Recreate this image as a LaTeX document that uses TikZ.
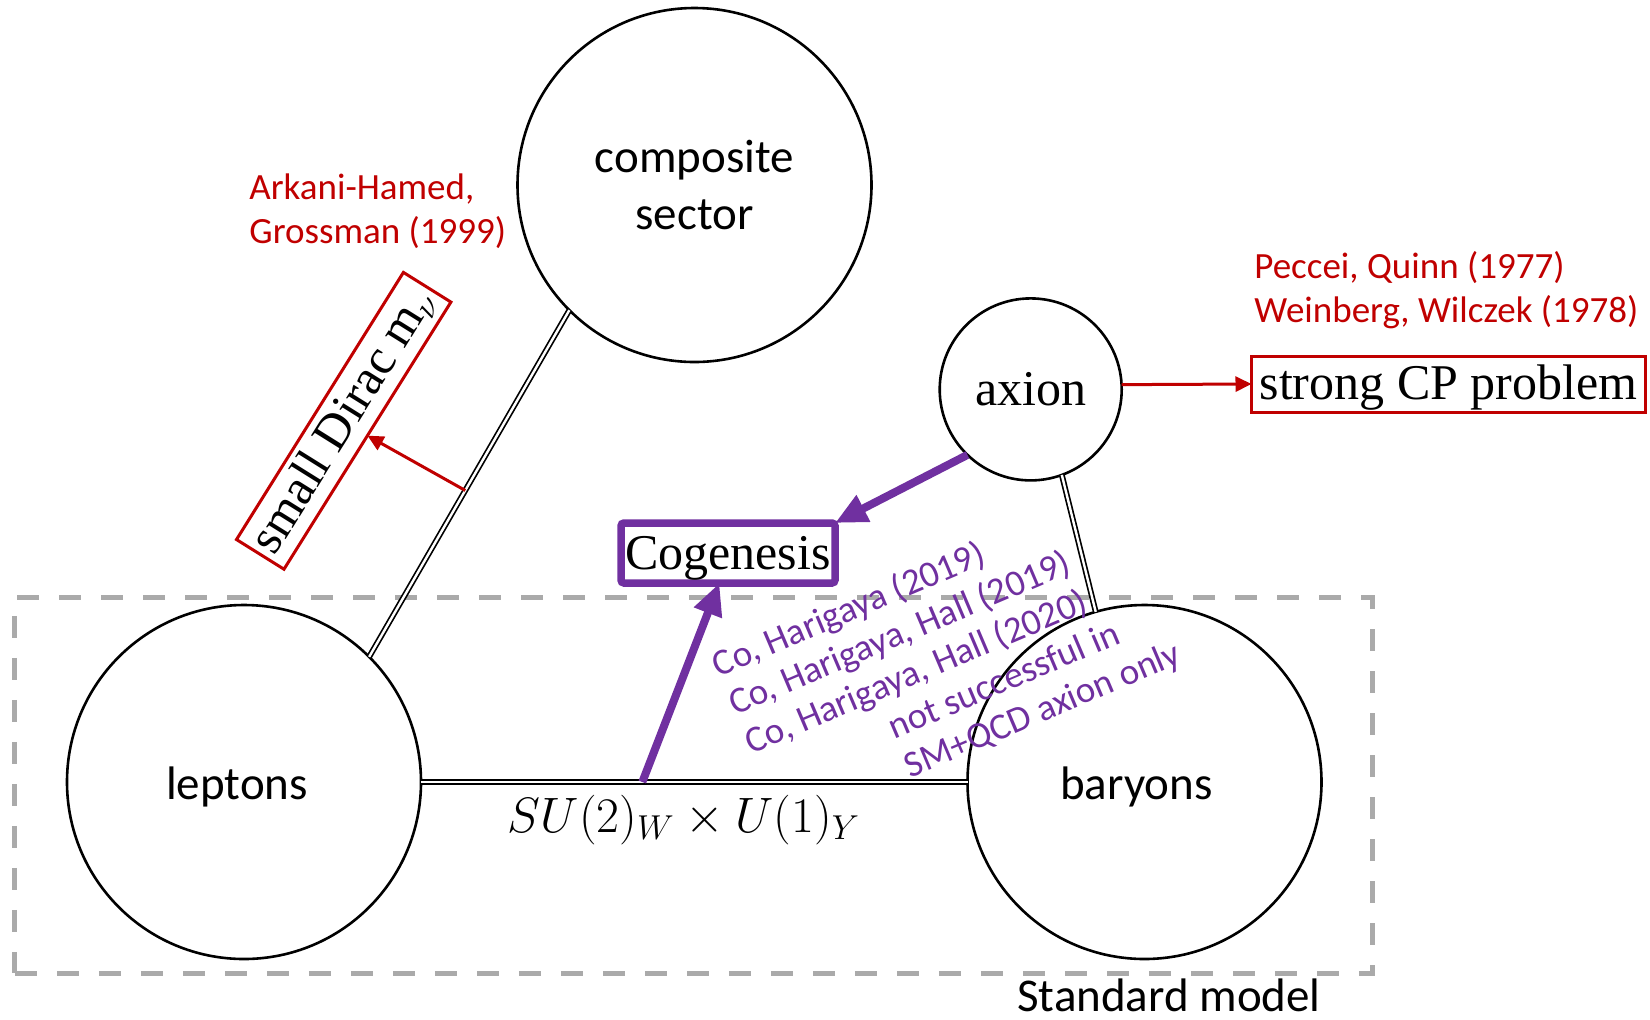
\documentclass[tikz,border=0pt]{standalone}
\usepackage{fontspec}
\setmainfont{Carlito}
\newfontfamily\serifA{Liberation Serif}
\usetikzlibrary{arrows.meta,calc}
\definecolor{myred}{RGB}{192,0,0}
\definecolor{mypurple}{RGB}{112,48,160}
\definecolor{dashgray}{RGB}{170,170,170}
\newcommand{\lowerby}[2]{\raisebox{-#1}[\height][\depth]{#2}}
\begin{document}
\begin{tikzpicture}[x=0.5pt,y=-0.5pt,
  bigcirc/.style={circle,draw=black,line width=1.3pt,minimum size=177pt,inner sep=0pt,outer sep=0pt,font=\fontsize{23.5}{28.3}\selectfont,align=center},
  smallcirc/.style={circle,draw=black,line width=1.3pt,minimum size=91pt,inner sep=0pt,outer sep=0pt,font=\serifA\fontsize{25}{30}\selectfont},
  dbl/.style={draw=black,line width=0.85pt,double=white,double distance=1.2pt},
  redarr/.style={draw=myred,line width=1.5pt,-{Triangle[length=8pt,width=7.5pt]}},
  purparr/.style={draw=mypurple,line width=4pt,-{Triangle[length=16pt,width=14pt]}},
  redbox/.style={draw=myred,line width=1.5pt,inner sep=0pt,outer sep=0pt,font=\serifA\fontsize{25}{30}\selectfont},
  reftext/.style={text=myred,font=\fontsize{18.5}{22}\selectfont,align=left,inner sep=0pt},
  purptext/.style={text=mypurple,font=\fontsize{18.5}{21}\selectfont,align=left,inner sep=0pt},
  smregion/.style={draw=dashgray,line width=2.5pt,dash pattern=on 11pt off 10pt,inner sep=0pt,outer sep=0pt},
  cogbox/.style={draw=mypurple,line width=3.75pt,rounded corners=1.5pt,inner sep=0pt,outer sep=0pt,font=\serifA\fontsize{25}{30}\selectfont}
]
\useasboundingbox (0,0) rectangle (1650,1019);

% Standard model region
\node[smregion,minimum width=678.6pt,minimum height=187.8pt] (smbox) at (693.4,785.6) {};
\node[font=\fontsize{23.5}{28}\selectfont,inner sep=0pt] (smlabel) at (1169,995.5) {Standard model};

% circles
\node[bigcirc] (comp) at (694.5,185) {composite\\sector};
\node[bigcirc] (lep) at (244,782) {\hspace*{-7pt}\lowerby{2.5pt}{leptons}};
\node[bigcirc] (bar) at (1144.5,782) {\hspace*{-8pt}\lowerby{2.5pt}{baryons}};
\node[smallcirc] (axion) at (1030.7,389.4) {axion};

% boxes
\node[redbox,minimum width=197pt,minimum height=28pt] (scp) at (1448.5,384) {\lowerby{2pt}{strong CP problem}};
\node[redbox,minimum width=157.5pt,minimum height=28pt,rotate=58] (dirac) at (343.7,420.8) {small Dirac m$_\nu$};
\node[cogbox,minimum width=107pt,minimum height=30pt] (cog) at (728,553) {\lowerby{2.5pt}{Cogenesis}};

% double lines
\draw[dbl] (comp.225) -- (lep.45);
\draw[dbl] (lep.east) -- (bar.west);
\draw[dbl] (axion.-70.3) -- (bar.106.4);

% arrows
\coordinate (dstart) at ($(comp.225)!0.52!(lep.45)$);
\draw[redarr] (dstart) -- (dirac.south);
\draw[redarr] (axion.3) -- (scp.west);
\coordinate (sustart) at ($(lep.east)!0.405!(bar.west)$);
\draw[purparr] (sustart) -- ($(cog.south west)!0.46!(cog.south east)$);
\draw[purparr] (axion.226) -- (cog.north east);

% labels
\node[inner sep=0pt,font=\fontsize{25}{30}\selectfont] (su) at (684,820) {$SU(2)_W\times U(1)_Y$};
\node[reftext,anchor=west] (ahg) at (249,211.5) {Arkani-Hamed,\\Grossman (1999)};
\node[reftext,anchor=west] (pqww) at (1254,290) {Peccei, Quinn (1977)\\Weinberg, Wilczek (1978)};
\node[purptext,rotate=23] (cotext) at (947,660) {Co, Harigaya (2019)\\Co, Harigaya, Hall (2019)\\Co, Harigaya, Hall (2020)\\\hspace*{68.5pt}not successful in\\\hspace*{68.5pt}SM+QCD axion only};
\end{tikzpicture}
\end{document}
